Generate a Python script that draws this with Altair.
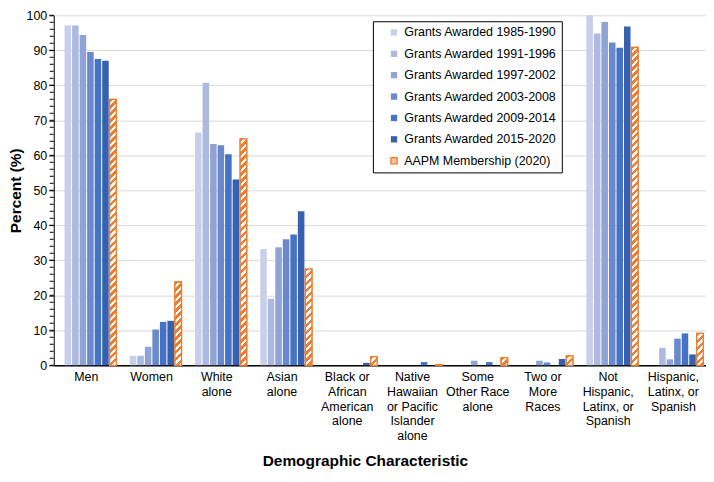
import altair as alt
import pandas as pd

# ---------------- data ----------------
categories = [
    "Men", "Women", "White\nalone", "Asian\nalone",
    "Black or\nAfrican\nAmerican\nalone",
    "Native\nHawaiian\nor Pacific\nIslander\nalone",
    "Some\nOther Race\nalone", "Two or\nMore\nRaces",
    "Not\nHispanic,\nLatinx, or\nSpanish",
    "Hispanic,\nLatinx, or\nSpanish",
]
series = [
    "Grants Awarded 1985-1990", "Grants Awarded 1991-1996",
    "Grants Awarded 1997-2002", "Grants Awarded 2003-2008",
    "Grants Awarded 2009-2014", "Grants Awarded 2015-2020",
    "AAPM Membership (2020)",
]
g1985 = [97.1, 2.7, 66.5, 33.2, 0.0, 0.0, 0.0, 0.0, 100.0, 0.0]
g1991 = [97.1, 2.7, 80.7, 19.0, 0.0, 0.0, 0.0, 0.0, 94.8, 5.0]
g1997 = [94.4, 5.3, 63.2, 33.7, 0.0, 0.0, 1.3, 1.3, 98.1, 1.7]
g2003 = [89.5, 10.2, 62.9, 36.0, 0.0, 0.0, 0.0, 0.8, 92.2, 7.6]
g2009 = [87.5, 12.4, 60.3, 37.4, 0.0, 0.9, 0.9, 0.0, 90.7, 9.1]
g2015 = [87.0, 12.7, 53.1, 44.0, 0.7, 0.0, 0.0, 1.8, 96.8, 3.1]
aapm = [76.0, 23.8, 64.7, 27.5, 2.5, 0.2, 2.2, 2.7, 90.8, 9.1]
y_ticks = list(range(0, 101, 10))
minor_ticks = list(range(0, 101, 2))

values = [g1985, g1991, g1997, g2003, g2009, g2015, aapm]
rows = []
for s, vals in zip(series, values):
    for c, v in zip(categories, vals):
        rows.append({"category": c, "series": s, "value": v})
df = pd.DataFrame(rows)
minor_df = pd.DataFrame({"value": minor_ticks})

# ---------------- style ----------------
FONT = "Liberation Sans"
W, H = 656, 352
ORANGE = "#ed7d31"
fills = ["#c8cfea", "#adb9e0", "#8fa3d7", "#6a89cc", "#4472c4", "#3761ae", "#f7c3a0"]
strokes = ["transparent"] * 6 + [ORANGE]

PI, PO, ALIGN = 0.13, 0.9, 0.8
band = W / 10
step = band / (7 - PI + 2 * PO)
BW = step * (1 - PI)
PERIOD = 7.0

x_enc = alt.X("category:N", sort=categories,
              scale=alt.Scale(domain=categories, paddingInner=0, paddingOuter=0),
              axis=alt.Axis(title="Demographic Characteristic", labelAngle=0,
                            labelExpr="split(datum.label, '\\n')",
                            labelLineHeight=15, labelPadding=5, ticks=False,
                            labelBaseline="top", labelFontSize=12.5, labelColor="black",
                            labelFont=FONT, domainColor="black", domainWidth=1.5,
                            titleFont=FONT, titleFontSize=15.5, titleFontWeight="bold",
                            titleColor="black", titleX=313, titleY=89,
                            titleBaseline="top", grid=False))
xo_enc = alt.XOffset("series:N", sort=series,
                     scale=alt.Scale(domain=series, paddingInner=PI,
                                     paddingOuter=PO, align=ALIGN))
y_scale = alt.Scale(domain=[0, 100], nice=False)
y_axis = alt.Axis(values=y_ticks, title="Percent (%)", grid=True,
                  gridColor="#d9d9d9", gridWidth=1, domainColor="black",
                  tickColor="black", tickSize=5, labelFontSize=12.5,
                  labelFont=FONT, labelColor="black", labelPadding=2,
                  titleFont=FONT, titleFontSize=15.5, titleFontWeight="bold",
                  titleColor="black", titlePadding=3)
y_enc = alt.Y("value:Q", scale=y_scale, axis=y_axis, title="Percent (%)")

legend = alt.Legend(title=None, orient="none", legendX=321, legendY=6,
                    strokeColor="black", fillColor="white", padding=5,
                    symbolOffset=10, symbolType="square", symbolSize=40,
                    symbolStrokeWidth=1.3, rowPadding=8.5,
                    labelFontSize=12.5, labelFont=FONT,
                    labelColor="black", labelLimit=300, labelOffset=4)

main = alt.Chart(df).mark_bar(strokeWidth=1.3).encode(
    x=x_enc,
    xOffset=xo_enc,
    y=y_enc,
    fill=alt.Fill("series:N", sort=series,
                  scale=alt.Scale(domain=series, range=fills), legend=legend),
    stroke=alt.Stroke("series:N", sort=series,
                      scale=alt.Scale(domain=series, range=strokes), legend=legend),
)


def hatch(v):
    h = max(v / 100 * H, 0.6)
    w = BW
    s = (w + h) * h / (h * h + w * w)
    x2, y2 = w / h * s, s
    n = (w + h) / PERIOD
    stops = []
    k = 0
    while k < n:
        a = k / n
        b = min((k + 0.5) / n, 1.0)
        c = min((k + 1) / n, 1.0)
        stops += [alt.GradientStop(offset=round(a, 5), color=ORANGE),
                  alt.GradientStop(offset=round(b, 5), color=ORANGE),
                  alt.GradientStop(offset=round(b, 5), color="#ffffff"),
                  alt.GradientStop(offset=round(c, 5), color="#ffffff")]
        k += 1
    return alt.LinearGradient(gradient="linear", stops=stops,
                              x1=0, y1=0, x2=round(x2, 5), y2=round(y2, 5))


hatch_layers = []
for c, v in zip(categories, aapm):
    layer = alt.Chart(df).transform_filter(
        (alt.datum.category == c) & (alt.datum.series == series[-1])
    ).mark_bar(fill=hatch(v), stroke=ORANGE, strokeWidth=1.3).encode(
        x=x_enc, xOffset=xo_enc, y=y_enc,
    )
    hatch_layers.append(layer)

minor = alt.Chart(minor_df).mark_rule(color="black", strokeWidth=1).encode(
    y=y_enc,
    x=alt.value(-4), x2=alt.value(0),
)

chart = alt.layer(main, *hatch_layers, minor).properties(
    width=W, height=H,
    padding={"left": 0, "top": 0, "right": 0, "bottom": 0},
).configure_view(strokeWidth=0).configure_axis(labelFont=FONT, titleFont=FONT)

chart.save("out.html", embed_options={"renderer": "svg", "actions": False})
